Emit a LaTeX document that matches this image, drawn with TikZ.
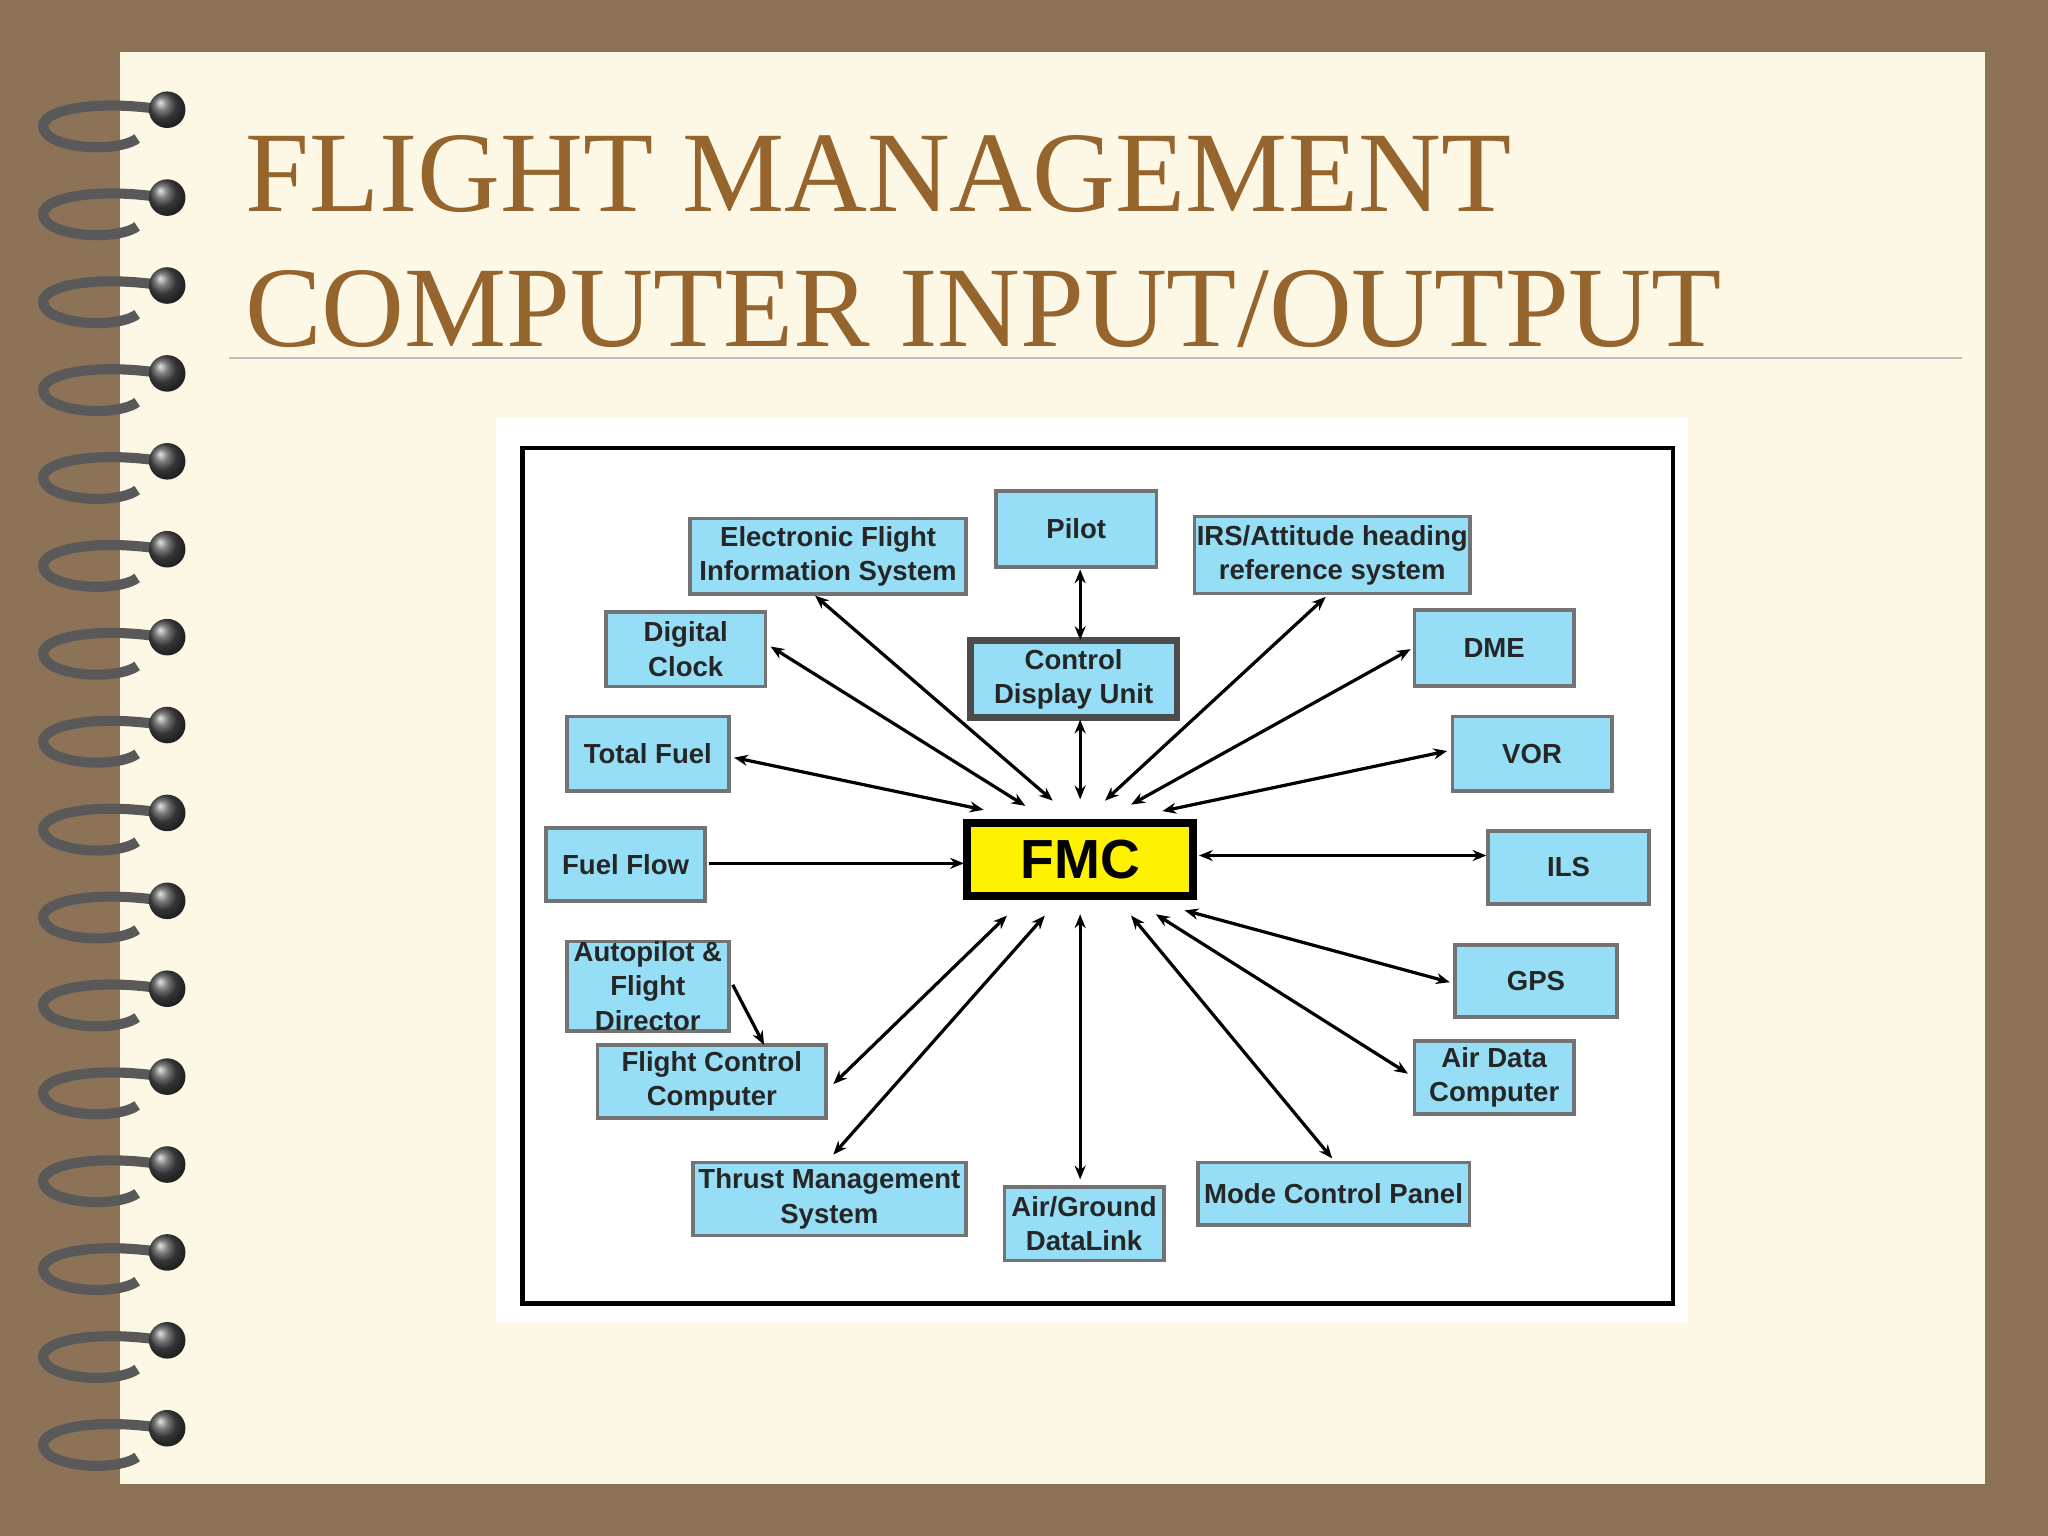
\documentclass[tikz,border=0pt]{standalone}
\usepackage{fontspec}
\setmainfont{Liberation Serif}
\newfontfamily\boxfont{Liberation Sans}
\usetikzlibrary{arrows.meta}
\begin{document}
\begin{tikzpicture}[x=0.01cm,y=-0.01cm,
  box/.style={draw=black!55,line width=0.8pt,fill=cyan!35!white,fill=boxblue,inner sep=0pt,align=center,font=\boxfont\bfseries\fontsize{6}{7.5}\selectfont,text=black!85},
  con/.style={line width=0.7pt,{Stealth[length=3pt,width=2.4pt]}-{Stealth[length=3pt,width=2.4pt]}},
  one/.style={line width=0.7pt,-{Stealth[length=3pt,width=2.4pt]}}]
\definecolor{boxblue}{RGB}{150,222,245}
\definecolor{brownbg}{RGB}{140,114,86}
\definecolor{cream}{RGB}{253,248,230}
\definecolor{titlec}{RGB}{150,100,45}
\useasboundingbox (0,0) rectangle (1568,1176);
\fill[brownbg] (0,0) rectangle (1568,1176);
\fill[cream] (92,40) rectangle (1520,1136);
% binding
\foreach \i in {0,...,15}{
  \pgfmathsetmacro{\yy}{84+67.3*\i}
  \draw[line width=2.2pt,gray!70!black] (125,\yy) .. controls (60,\yy-10) and (15,\yy+5) .. (40,\yy+22) .. controls (60,\yy+32) and (95,\yy+30) .. (105,\yy+22);
  \shade[ball color=gray!60!black] (128,\yy) circle (14);
}
\node[anchor=base west,text=titlec,font=\fontsize{25}{30}\selectfont,inner sep=0pt] (t1) at (187,162) {FLIGHT MANAGEMENT};
\node[anchor=base west,text=titlec,font=\fontsize{25}{30}\selectfont,inner sep=0pt] (t2) at (187,265) {COMPUTER INPUT/OUTPUT};
\draw[black!25,line width=0.4pt] (175,274) -- (1502,274);
\fill[white] (380,320) rectangle (1292,1013);
\draw[line width=0.9pt] (400,343) rectangle (1281,998);
% nodes
\node[box,minimum width=211*0.01cm,minimum height=58*0.01cm] (efis) at (634,426) {Electronic Flight\\Information System};
\node[box,minimum width=123*0.01cm,minimum height=58*0.01cm] (pilot) at (824,405) {Pilot};
\node[box,minimum width=211*0.01cm,minimum height=59*0.01cm] (irs) at (1020,425) {IRS/Attitude heading\\reference system};
\node[box,minimum width=122*0.01cm,minimum height=57*0.01cm] (clock) at (525,497) {Digital\\Clock};
\node[box,draw=black!70,line width=1.4pt,minimum width=158*0.01cm,minimum height=59*0.01cm] (cdu) at (822,520) {Control\\Display Unit};
\node[box,minimum width=122*0.01cm,minimum height=58*0.01cm] (dme) at (1144,496) {DME};
\node[box,minimum width=124*0.01cm,minimum height=57*0.01cm] (tfuel) at (496,577) {Total Fuel};
\node[box,minimum width=122*0.01cm,minimum height=57*0.01cm] (vor) at (1173,577) {VOR};
\node[box,minimum width=122*0.01cm,minimum height=56*0.01cm] (fflow) at (479,662) {Fuel Flow};
\node[draw=black,line width=1.8pt,fill=yellow,minimum width=173*0.01cm,minimum height=56*0.01cm,inner sep=0pt,font=\boxfont\bfseries\fontsize{12}{14}\selectfont] (fmc) at (827,658) {FMC};
\node[box,minimum width=123*0.01cm,minimum height=56*0.01cm] (ils) at (1201,664) {ILS};
\node[box,minimum width=124*0.01cm,minimum height=64*0.01cm] (ap) at (496,755) {Autopilot \&\\Flight\\Director};
\node[box,minimum width=124*0.01cm,minimum height=55*0.01cm] (gps) at (1176,751) {GPS};
\node[box,minimum width=175*0.01cm,minimum height=56*0.01cm] (fcc) at (545,828) {Flight Control\\Computer};
\node[box,minimum width=122*0.01cm,minimum height=56*0.01cm] (adc) at (1144,825) {Air Data\\Computer};
\node[box,minimum width=209*0.01cm,minimum height=56*0.01cm] (tms) at (635,918) {Thrust Management\\System};
\node[box,minimum width=122*0.01cm,minimum height=56*0.01cm] (agd) at (830,937) {Air/Ground\\DataLink};
\node[box,minimum width=208*0.01cm,minimum height=48*0.01cm] (mcp) at (1021,914) {Mode Control Panel};
% connector ends
\foreach \n/\a/\b/\c/\d in {efis/624/456/806/613, clock/590/495/785/617, tfuel/562/580/753/620,
  cdu/827/551/827/612, irs/1015/457/846/613, dme/1080/497/866/616, vor/1108/575/890/621,
  ils/1138/655/918/655, gps/1110/752/907/697, adc/1078/822/885/700, mcp/1020/887/866/701,
  agd/827/903/827/700, tms/638/884/800/701, fcc/638/830/771/701}{
  \coordinate (\n-s) at (\a,\b);
  \coordinate (\n-f) at (\c,\d);
  \draw[con] (\n-s) -- (\n-f);
}
\coordinate (p-s) at (827,436); \coordinate (p-e) at (827,490);
\draw[con] (p-s) -- (p-e);
\coordinate (ff-s) at (543,661); \coordinate (ff-e) at (738,661);
\draw[one] (ff-s) -- (ff-e);
\coordinate (ap-s) at (561,754); \coordinate (ap-e) at (585,800);
\draw[one] (ap-s) -- (ap-e);
\end{tikzpicture}
\end{document}
